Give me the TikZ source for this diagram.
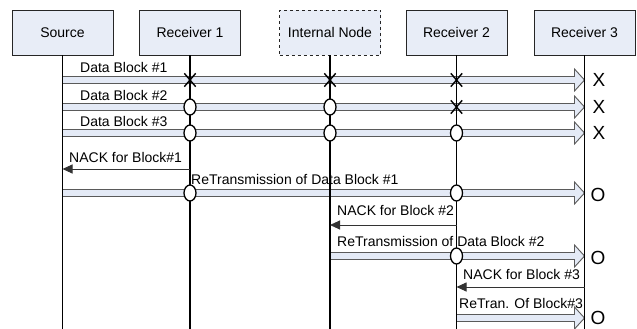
\documentclass[tikz,border=0pt]{standalone}
\usepackage{fontspec}
\setmainfont{Liberation Sans}
\usetikzlibrary{calc,arrows.meta,shapes.geometric,shapes.misc}
\definecolor{boxfill}{HTML}{E8EDF7}
\definecolor{arrfill}{HTML}{E4EAF6}
\definecolor{arredge}{HTML}{5A5A5A}
\tikzset{
 actor/.style={draw=black!85, line width=0.8pt, fill=boxfill, minimum width=101pt, minimum height=45pt, inner sep=0pt, font=\fontsize{14}{16}\selectfont},
 lifeline/.style={line width=1.4pt},
 blk/.style={draw=arredge, line width=0.9pt, fill=arrfill, line join=miter},
 nack/.style={draw=black!80, line width=0.9pt, -{Triangle[length=10pt,width=9pt]}},
 lbl/.style={anchor=base west, inner sep=0pt, font=\fontsize{14}{16}\selectfont},
 xmark/.style={cross out, draw, line width=1.4pt, minimum width=10pt, minimum height=12pt, inner sep=0pt},
 omark/.style={ellipse, draw, line width=1.3pt, fill=white, minimum width=12pt, minimum height=16pt, inner sep=0pt},
 res/.style={inner sep=0pt, font=\fontsize{19}{20}\selectfont}
}
\newcommand\blkarrow[2]{\draw[blk] ($(#1)+(0,-3.5)$) -- ($(#2)+(-10,-3.5)$) -- ($(#2)+(-10,-11)$) -- (#2) -- ($(#2)+(-10,11)$) -- ($(#2)+(-10,3.5)$) -- ($(#1)+(0,3.5)$) -- cycle;}
\begin{document}
\begin{tikzpicture}[x=1pt,y=-1pt]
\useasboundingbox (0,0) rectangle (637,329);
% actors
\node[actor] (src) at (62.5,32.5) {Source};
\node[actor] (r1) at (190,32.5) {Receiver 1};
\node[actor, dashed] (in) at (330,32.5) {Internal Node};
\node[actor] (r2) at (456.5,32.5) {Receiver 2};
\node[actor] (r3) at (584.5,32.5) {Receiver 3};
% lifeline ends
\coordinate (srcE) at (src.south |- 0,329);
\coordinate (r1E) at (r1.south |- 0,329);
\coordinate (inE) at (in.south |- 0,329);
\coordinate (r2E) at (r2.south |- 0,329);
\coordinate (r3E) at (r3.south |- 0,329);
% block arrow endpoints
\coordinate (d1s) at (src.south |- 0,80);  \coordinate (d1e) at (r3.south |- 0,80);
\coordinate (d2s) at (src.south |- 0,107); \coordinate (d2e) at (r3.south |- 0,107);
\coordinate (d3s) at (src.south |- 0,133); \coordinate (d3e) at (r3.south |- 0,133);
\coordinate (t1s) at (src.south |- 0,193); \coordinate (t1e) at (r3.south |- 0,193);
\coordinate (t2s) at (in.south |- 0,256);  \coordinate (t2e) at (r3.south |- 0,256);
\coordinate (t3s) at (r2.south |- 0,318);  \coordinate (t3e) at (r3.south |- 0,318);
\blkarrow{d1s}{d1e}
\blkarrow{d2s}{d2e}
\blkarrow{d3s}{d3e}
\blkarrow{t1s}{t1e}
\blkarrow{t2s}{t2e}
\blkarrow{t3s}{t3e}
% labels
\node[lbl] at (80,73) {Data Block \#1};
\node[lbl] at (80,100) {Data Block \#2};
\node[lbl] at (80,126) {Data Block \#3};
\node[lbl] at (69,162.5) {NACK for Block\#1};
\node[lbl] at (191,184) {ReTransmission of Data Block \#1};
\node[lbl] at (337,215) {NACK for Block \#2};
\node[lbl] at (337,246) {ReTransmission of Data Block \#2};
\node[lbl] at (463,279) {NACK for Block \#3};
\node[lbl] at (459,308) {ReTran. Of Block\#3};
% lifelines
\draw[lifeline] (src.south) -- (srcE);
\draw[lifeline] (r1.south) -- (r1E);
\draw[lifeline] (in.south) -- (inE);
\draw[lifeline] (r2.south) -- (r2E);
\draw[lifeline] (r3.south) -- (r3E);
% NACKs
\coordinate (n1s) at (r1.south |- 0,169); \coordinate (n1e) at (src.south |- 0,169);
\coordinate (n2s) at (r2.south |- 0,225); \coordinate (n2e) at (in.south |- 0,225);
\coordinate (n3s) at (r3.south |- 0,287); \coordinate (n3e) at (r2.south |- 0,287);
\draw[nack] (n1s) -- (n1e);
\draw[nack] (n2s) -- (n2e);
\draw[nack] (n3s) -- (n3e);
% markers on lifelines
\node[xmark] (m11) at (r1.south |- 0,80) {};
\node[xmark] (m12) at (in.south |- 0,80) {};
\node[xmark] (m13) at (r2.south |- 0,80) {};
\node[omark] (m21) at (r1.south |- 0,107) {};
\node[omark] (m22) at (in.south |- 0,107) {};
\node[xmark] (m23) at (r2.south |- 0,107) {};
\node[omark] (m31) at (r1.south |- 0,133) {};
\node[omark] (m32) at (in.south |- 0,133) {};
\node[omark] (m33) at (r2.south |- 0,133) {};
\node[omark] (m41) at (r1.south |- 0,193) {};
\node[omark] (m43) at (r2.south |- 0,193) {};
\node[omark] (m53) at (r2.south |- 0,256) {};
% results at receiver 3
\node[res] (z1) at (599,80) {X};
\node[res] (z2) at (599,107) {X};
\node[res] (z3) at (599,133) {X};
\node[res] (z4) at (598,195) {O};
\node[res] (z5) at (598,258) {O};
\node[res] (z6) at (598,318) {O};
\end{tikzpicture}
\end{document}
